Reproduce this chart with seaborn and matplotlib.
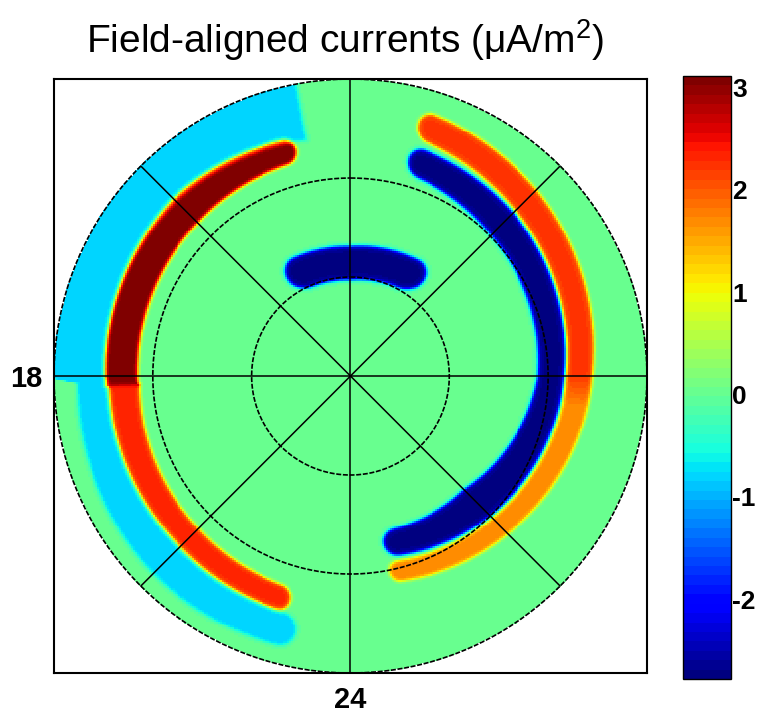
import numpy as np
import matplotlib
matplotlib.use("Agg")
import matplotlib.pyplot as plt
import seaborn as sns

# --- values ---
title = "Field-aligned currents (\u03bcA/m$^2$)"
v_min, v_max = -2.78, 3.11          # colour bar range (uA/m^2)
cbar_ticks = [-2, -1, 0, 1, 2, 3]
max_colat = 30.0                    # outer circle, degrees from the pole
ring_colats = [10, 20, 30]
spoke_mlts = [0, 3, 6, 9, 12, 15, 18, 21]
left_label, bottom_label = "18", "24"

# each current sheet: MLT nodes, centre colatitude, half width (deg), value,
# and how rounded its (start, end) caps are
dusk_pole_mlt = [12.9, 15.0, 18.15]
dusk_pole_colat = [23.5, 23.6, 23.1]
dusk_pole_half = [1.2, 1.75, 1.6]
dusk_pole_value = [3.1, 3.1, 3.1]
dusk_pole_caps = (1.0, 0.0)

dusk_eq_mlt = [18.15, 21.0, 23.0]
dusk_eq_colat = [22.9, 23.1, 23.5]
dusk_eq_half = [1.55, 1.35, 1.25]
dusk_eq_value = [2.3, 2.3, 2.3]
dusk_eq_caps = (0.0, 1.0)

dusk_outer_mlt = [12.7, 15.0, 18.0, 18.1, 21.0, 23.2]
dusk_outer_colat = [27.6, 28.1, 28.1, 26.1, 26.3, 26.5]
dusk_outer_half = [3.4, 3.2, 3.2, 1.6, 2.0, 1.7]
dusk_outer_value = [-0.8, -0.8, -0.8, -0.8, -0.8, -0.8]
dusk_outer_caps = (0.0, 1.0)

dawn_pole_mlt = [0.75, 3.0, 6.0, 9.0, 11.0]
dawn_pole_colat = [17.3, 18.1, 20.3, 21.7, 22.7]
dawn_pole_half = [1.3, 1.9, 1.35, 1.6, 1.4]
dawn_pole_value = [-2.7, -2.7, -2.7, -2.7, -2.7]
dawn_pole_caps = (1.0, 1.0)

dawn_eq_mlt = [0.75, 3.0, 5.5, 6.0, 9.0, 11.0]
dawn_eq_colat = [20.2, 21.4, 22.9, 23.1, 25.1, 26.4]
dawn_eq_half = [1.05, 1.15, 1.3, 1.35, 1.5, 1.45]
dawn_eq_value = [1.7, 1.7, 1.7, 2.2, 2.2, 2.2]
dawn_eq_caps = (1.0, 1.0)

cusp_mlt = [9.5, 12.0, 14.2]
cusp_colat = [12.0, 11.4, 11.6]
cusp_half = [1.7, 1.7, 1.7]
cusp_value = [-2.7, -2.7, -2.7]
cusp_caps = (1.0, 1.0)

bands = [
    (dusk_pole_mlt, dusk_pole_colat, dusk_pole_half, dusk_pole_value, dusk_pole_caps),
    (dusk_eq_mlt, dusk_eq_colat, dusk_eq_half, dusk_eq_value, dusk_eq_caps),
    (dusk_outer_mlt, dusk_outer_colat, dusk_outer_half, dusk_outer_value, dusk_outer_caps),
    (dawn_pole_mlt, dawn_pole_colat, dawn_pole_half, dawn_pole_value, dawn_pole_caps),
    (dawn_eq_mlt, dawn_eq_colat, dawn_eq_half, dawn_eq_value, dawn_eq_caps),
    (cusp_mlt, cusp_colat, cusp_half, cusp_value, cusp_caps),
]

N = 300  # grid cells across the plot


def band_field(colat, mlt, b_mlt, b_colat, b_half, b_value, caps, soft=0.22):
    b_mlt = np.asarray(b_mlt)
    mid = 0.5 * (b_mlt[0] + b_mlt[-1])
    m = (mlt - mid + 12) % 24 - 12 + mid
    mc = np.clip(m, b_mlt[0], b_mlt[-1])
    centre = np.interp(mc, b_mlt, b_colat)
    half = np.interp(mc, b_mlt, b_half)
    value = np.interp(mc, b_mlt, b_value)
    rc = np.where(m < mid, caps[0], caps[1]) * half + 1e-6
    # rounded strip: signed distance to the sheet outline
    q_r = np.abs(colat - centre) - half + rc
    q_a = np.maximum(b_mlt[0] - m, m - b_mlt[-1]) * np.radians(15) * colat + rc
    sdf = (np.hypot(np.maximum(q_r, 0), np.maximum(q_a, 0))
           + np.minimum(np.maximum(q_r, q_a), 0) - rc)
    return value * 0.5 * (1 - np.tanh(sdf / soft))


edges = np.linspace(-max_colat, max_colat, N + 1)
centres = 0.5 * (edges[1:] + edges[:-1])
xx, yy = np.meshgrid(centres, centres[::-1])
colat = np.hypot(xx, yy)
mlt = (np.degrees(np.arctan2(xx, -yy)) / 15.0) % 24
fac = np.zeros_like(colat)
for b in bands:
    fac += band_field(colat, mlt, *b)
mask = colat > max_colat


def to_cell(x, y):
    return (x + max_colat) / (2 * max_colat) * N, (max_colat - y) / (2 * max_colat) * N


sns.set_style("white")
plt.rcParams["font.family"] = ["Liberation Sans", "DejaVu Sans"]
plt.rcParams["mathtext.default"] = "regular"
plt.rcParams["text.color"] = "black"
plt.rcParams["xtick.color"] = "black"
plt.rcParams["ytick.color"] = "black"

fig = plt.figure(figsize=(7.59, 7.25), dpi=100)
ax = fig.add_axes([0.0711, 0.0717, 0.7813, 0.8193])
cax = fig.add_axes([0.900, 0.0634, 0.0632, 0.8317])

sns.heatmap(fac, mask=mask, cmap=plt.get_cmap("jet", 64), vmin=v_min, vmax=v_max,
            ax=ax, cbar_ax=cax, cbar_kws={"ticks": cbar_ticks},
            xticklabels=False, yticklabels=False)
cbar = ax.collections[0].colorbar

# polar grid
t = np.linspace(0, 2 * np.pi, 400)
for rc in ring_colats:
    cx, cy = to_cell(rc * np.sin(t), rc * np.cos(t))
    ax.plot(cx, cy, color="black", lw=1.2, ls=(0, (3, 1)))
for s in spoke_mlts:
    th = np.radians(s * 15)
    cx, cy = to_cell(np.array([0, max_colat * np.sin(th)]),
                     np.array([0, -max_colat * np.cos(th)]))
    ax.plot(cx, cy, color="black", lw=1.1)

for sp in ax.spines.values():
    sp.set_visible(True)
    sp.set_linewidth(1.5)
    sp.set_color("black")

ax.set_xticks([N / 2])
ax.set_xticklabels([bottom_label], fontsize=21, fontweight="bold")
ax.set_yticks([N / 2])
ax.set_yticklabels([left_label], fontsize=21, fontweight="bold", rotation=0)
ax.tick_params(axis="x", length=0, pad=9)
ax.tick_params(axis="y", length=0, pad=8)

cax.set_yticks(cbar_ticks)
cax.set_yticklabels([str(v) for v in cbar_ticks], fontsize=19, fontweight="bold")
cax.tick_params(axis="y", direction="in", left=True, right=True, length=5,
                width=1, pad=1)
if cbar is not None:
    cbar.outline.set_linewidth(1)
    cbar.outline.set_edgecolor("black")

fig.text(0.4545, 0.945, title, ha="center", va="center", fontsize=28)

fig.savefig("out.png", dpi=100)
